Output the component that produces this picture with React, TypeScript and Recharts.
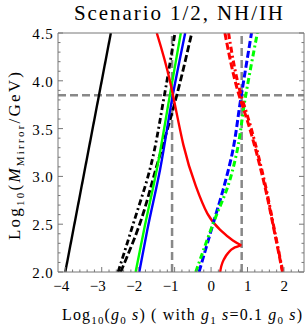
import React from 'react';
import { LineChart, Line, XAxis, YAxis, ReferenceLine } from 'recharts';

// tick positions
const xMajor = [-4, -3, -2, -1, 0, 1, 2];
const xTicks = [-4, -3.8, -3.6, -3.4, -3.2, -3, -2.8, -2.6, -2.4, -2.2, -2, -1.8, -1.6, -1.4, -1.2, -1, -0.8, -0.6, -0.4, -0.2, 0, 0.2, 0.4, 0.6, 0.8, 1, 1.2, 1.4, 1.6, 1.8, 2, 2.2, 2.4];
const yMajor = [2, 2.5, 3, 3.5, 4, 4.5];
const yTicks = [2, 2.1, 2.2, 2.3, 2.4, 2.5, 2.6, 2.7, 2.8, 2.9, 3, 3.1, 3.2, 3.3, 3.4, 3.5, 3.6, 3.7, 3.8, 3.9, 4, 4.1, 4.2, 4.3, 4.4, 4.5];

// reference lines
const vLines = [-1.07, 0.84];
const hLine = 3.85;

// curves: x = log10(g0 s), y = log10(M)
const blackSolid = [
  { x: -4.0, y: 2.0 },
  { x: -2.75, y: 4.5 },
];
const blackDashDot = [
  { x: -2.55, y: 2.0 },
  { x: -2.13, y: 2.51 },
  { x: -1.68, y: 3.07 },
  { x: -1.28, y: 3.85 },
  { x: -0.99, y: 4.5 },
];
const blackDashed = [
  { x: -2.48, y: 2.0 },
  { x: -1.95, y: 2.51 },
  { x: -1.52, y: 3.07 },
  { x: -0.94, y: 3.85 },
  { x: -0.53, y: 4.5 },
];
const greenSolid = [
  { x: -2.07, y: 2.0 },
  { x: -1.84, y: 2.44 },
  { x: -1.49, y: 3.07 },
  { x: -1.13, y: 3.85 },
  { x: -0.83, y: 4.5 },
];
const blueSolid = [
  { x: -1.97, y: 2.0 },
  { x: -1.75, y: 2.44 },
  { x: -1.4, y: 3.07 },
  { x: -1.05, y: 3.85 },
  { x: -0.71, y: 4.5 },
];
// red solid: upper branch down to the cusp, then the lower branch
const redSolidUpper = [
  { x: -1.49, y: 4.5 },
  { x: -1.13, y: 4.0 },
  { x: -0.76, y: 3.33 },
  { x: -0.42, y: 2.9 },
  { x: -0.1, y: 2.61 },
  { x: 0.25, y: 2.44 },
  { x: 0.6, y: 2.33 },
  { x: 0.83, y: 2.28 },
];
const redSolidLower = [
  { x: 0.83, y: 2.28 },
  { x: 0.62, y: 2.25 },
  { x: 0.47, y: 2.2 },
  { x: 0.35, y: 2.13 },
  { x: 0.28, y: 2.06 },
  { x: 0.25, y: 2.0 },
];
const blueDashed = [
  { x: -0.33, y: 2.0 },
  { x: 0.06, y: 2.51 },
  { x: 0.33, y: 2.86 },
  { x: 0.58, y: 3.24 },
  { x: 0.81, y: 3.8 },
  { x: 1.11, y: 4.5 },
];
const greenDashDot = [
  { x: -0.42, y: 2.0 },
  { x: 0.06, y: 2.51 },
  { x: 0.49, y: 2.93 },
  { x: 0.7, y: 3.24 },
  { x: 0.93, y: 3.8 },
  { x: 1.27, y: 4.5 },
];
const redDashed = [
  { x: 0.38, y: 4.5 },
  { x: 0.7, y: 3.94 },
  { x: 1.07, y: 3.49 },
  { x: 1.48, y: 2.89 },
  { x: 1.75, y: 2.4 },
  { x: 1.96, y: 2.0 },
];
const redDashDot = [
  { x: 0.48, y: 4.5 },
  { x: 0.76, y: 3.94 },
  { x: 1.11, y: 3.49 },
  { x: 1.5, y: 2.89 },
  { x: 1.76, y: 2.4 },
  { x: 1.97, y: 2.0 },
];

const FONT = '"Liberation Serif", "DejaVu Serif", serif';
const FRAME = '#777';

const isIn = (list: number[], v: number) => list.some((m) => Math.abs(m - v) < 1e-6);

function BottomTick(props: any) {
  const { x, y, payload } = props;
  const v = payload.value;
  const major = isIn(xMajor, v);
  return (
    <g>
      <line x1={x} y1={y} x2={x} y2={y - (major ? 5 : 2.5)} stroke={FRAME} />
      {major && (
        <text x={x + 4} y={y + 18.5} textAnchor="end" fontFamily={FONT} fontSize={15} fill="#000">
          {v < 0 ? `\u2212${-v}` : `${v}`}
        </text>
      )}
    </g>
  );
}

function TopTick(props: any) {
  const { x, y, payload } = props;
  const major = isIn(xMajor, payload.value);
  return <line x1={x} y1={y} x2={x} y2={y + (major ? 5 : 2.5)} stroke={FRAME} />;
}

function LeftTick(props: any) {
  const { x, y, payload } = props;
  const v = payload.value;
  const major = isIn(yMajor, v);
  return (
    <g>
      <line x1={x} y1={y} x2={x + (major ? 5 : 2.5)} y2={y} stroke={FRAME} />
      {major && (
        <text x={x - 4.5} y={y + 6} textAnchor="end" fontFamily={FONT} fontSize={15} fill="#000" letterSpacing={0.8}>
          {v.toFixed(1)}
        </text>
      )}
    </g>
  );
}

function RightTick(props: any) {
  const { x, y, payload } = props;
  const major = isIn(yMajor, payload.value);
  return <line x1={x} y1={y} x2={x - (major ? 5 : 2.5)} y2={y} stroke={FRAME} />;
}

export default function App() {
  const common = {
    xAxisId: 'b',
    yAxisId: 'l',
    dataKey: 'y',
    dot: false,
    activeDot: false,
    isAnimationActive: false,
    type: 'monotoneY' as const,
  };
  return (
    <div style={{ position: 'absolute', left: 0, top: 0, width: 305, height: 328, background: '#fff' }}>
      <LineChart width={305} height={328} margin={{ top: 0, right: 0, bottom: 0, left: 0 }}>
        <XAxis
          xAxisId="b"
          type="number"
          dataKey="x"
          domain={[-4.2, 2.55]}
          allowDataOverflow
          ticks={xTicks}
          interval={0}
          height={56}
          tickSize={0}
          tickMargin={0}
          tickLine={false}
          axisLine={{ stroke: FRAME }}
          tick={<BottomTick />}
        />
        <XAxis
          xAxisId="t"
          orientation="top"
          type="number"
          domain={[-4.2, 2.55]}
          allowDataOverflow
          ticks={xTicks}
          interval={0}
          height={33}
          tickSize={0}
          tickMargin={0}
          tickLine={false}
          axisLine={{ stroke: FRAME }}
          tick={<TopTick />}
        />
        <YAxis
          yAxisId="l"
          type="number"
          domain={[2, 4.5]}
          allowDataOverflow
          ticks={yTicks}
          interval={0}
          width={58}
          tickSize={0}
          tickMargin={0}
          tickLine={false}
          axisLine={{ stroke: FRAME }}
          tick={<LeftTick />}
        />
        <YAxis
          yAxisId="r"
          orientation="right"
          type="number"
          domain={[2, 4.5]}
          allowDataOverflow
          ticks={yTicks}
          interval={0}
          width={1}
          tickSize={0}
          tickMargin={0}
          tickLine={false}
          axisLine={{ stroke: FRAME }}
          tick={<RightTick />}
        />

        {vLines.map((v) => (
          <ReferenceLine key={v} xAxisId="b" yAxisId="l" x={v} stroke="#888" strokeWidth={2.5} strokeDasharray="8 4" />
        ))}
        <ReferenceLine xAxisId="b" yAxisId="l" y={hLine} stroke="#888" strokeWidth={2.5} strokeDasharray="8 4" />

        <Line {...common} data={blackSolid} type="linear" stroke="#000" strokeWidth={2.4} />
        <Line {...common} data={blackDashDot} stroke="#000" strokeWidth={2.8} strokeDasharray="6 3 2 3" />
        <Line {...common} data={blackDashed} stroke="#000" strokeWidth={2.8} strokeDasharray="7 3" />
        <Line {...common} data={greenSolid} stroke="#00ff00" strokeWidth={2.4} />
        <Line {...common} data={blueSolid} stroke="#0000ff" strokeWidth={2.4} />
        <Line {...common} data={redSolidUpper} type="natural" stroke="#ff0000" strokeWidth={2.4} />
        <Line {...common} data={redSolidLower} stroke="#ff0000" strokeWidth={2.4} />
        <Line {...common} data={blueDashed} stroke="#0000ff" strokeWidth={3} strokeDasharray="7 3" />
        <Line {...common} data={greenDashDot} stroke="#00ff00" strokeWidth={3} strokeDasharray="6 3 2 3" />
        <Line {...common} data={redDashed} stroke="#ff0000" strokeWidth={3} strokeDasharray="7 3" />
        <Line {...common} data={redDashDot} stroke="#ff0000" strokeWidth={3} strokeDasharray="6 3 2 3" />

        <text x={74} y={20} fontFamily={FONT} fontSize={21} fill="#000" textLength={209} lengthAdjust="spacing">
          Scenario 1/2, NH/IH
        </text>
        <text x={62} y={320} fontFamily={FONT} fontSize={16} fill="#000" textLength={240} lengthAdjust="spacing">
          Log
          <tspan fontSize={11} dy={4}>10</tspan>
          <tspan dy={-4}>(</tspan>
          <tspan fontStyle="italic">g</tspan>
          <tspan fontSize={11} dy={4}>0</tspan>
          <tspan dy={-4} fontStyle="italic"> s</tspan>
          <tspan>) ( with </tspan>
          <tspan fontStyle="italic">g</tspan>
          <tspan fontSize={11} dy={4}>1</tspan>
          <tspan dy={-4} fontStyle="italic"> s</tspan>
          <tspan>=0.1 </tspan>
          <tspan fontStyle="italic">g</tspan>
          <tspan fontSize={11} dy={4}>0</tspan>
          <tspan dy={-4} fontStyle="italic"> s</tspan>
          <tspan>)</tspan>
        </text>
        <text
          x={0}
          y={0}
          transform="translate(20,156) rotate(-90)"
          textAnchor="middle"
          fontFamily={FONT}
          fontSize={17}
          fill="#000"
          textLength={168}
          lengthAdjust="spacing"
        >
          Log
          <tspan fontSize={11} dy={4}>10</tspan>
          <tspan dy={-4}>(</tspan>
          <tspan fontStyle="italic">M</tspan>
          <tspan fontSize={11} dy={4}>Mirror</tspan>
          <tspan dy={-4}>/GeV)</tspan>
        </text>
      </LineChart>
    </div>
  );
}
